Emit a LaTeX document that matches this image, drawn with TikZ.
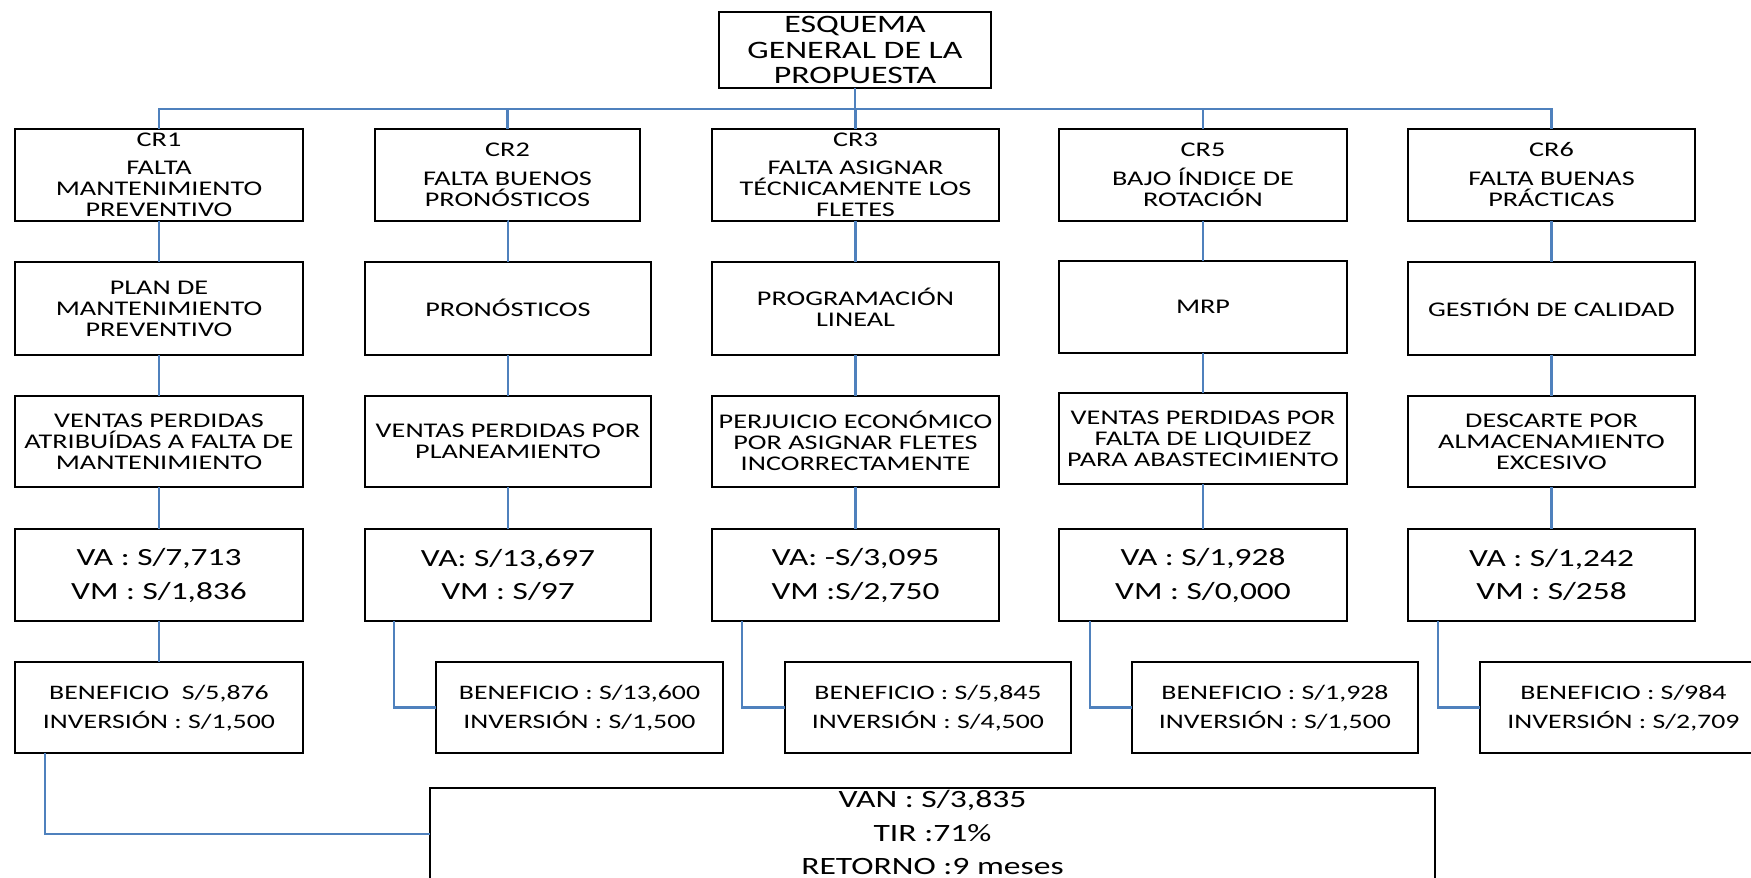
\documentclass[tikz,border=0pt]{standalone}
\usepackage{fontspec}
\setmainfont{Carlito}[FakeStretch=1.35]
\definecolor{linkblue}{RGB}{79,129,189}
% invisible rules that balance the first and last line of a box
\newcommand\tp{\rule{0pt}{0.75em}}
\newcommand\bt{\rule[-0.11em]{0pt}{0.11em}}
\newcommand\btlow{\rule[-0.18em]{0pt}{0.18em}}
\begin{document}
\begin{tikzpicture}[x=1pt,y=-1pt,
  box/.style={draw=black, line width=2.4pt, inner sep=0pt, outer sep=0pt, align=center},
  sz/.style 2 args={minimum width=#1pt, minimum height=#2pt},
  conn/.style={draw=linkblue, line width=2.2pt},
  ftitle/.style={font=\fontsize{25.1}{25.7}\selectfont},
  frow/.style={font=\fontsize{20.9}{21}\selectfont},
  fval/.style={font=\fontsize{24.7}{33.6}\selectfont},
  fben/.style={font=\fontsize{20.6}{28.3}\selectfont},
  ffin/.style={font=\fontsize{24.9}{33.6}\selectfont}]
\useasboundingbox (0,0) rectangle (1751,878);

% title
\node[box,sz={272}{76},ftitle] (title) at (855,50) {\tp ESQUEMA\\GENERAL DE LA\\PROPUESTA\bt};

% critical root causes
\node[box,sz={288}{92},frow] (c1) at (159,175) {\tp CR1\\[7.5pt]FALTA\\MANTENIMIENTO\\PREVENTIVO\bt};
\node[box,sz={265}{92},frow] (c2) at (507.5,175) {\tp CR2\\[8.5pt]FALTA BUENOS\\PRONÓSTICOS\bt};
\node[box,sz={287}{92},frow] (c3) at (855.5,175) {\tp CR3\\[7.5pt]FALTA ASIGNAR\\TÉCNICAMENTE LOS\\FLETES\bt};
\node[box,sz={288}{92},frow] (c5) at (1203,175) {\tp CR5\\[8.5pt]BAJO ÍNDICE DE\\ROTACIÓN\bt};
\node[box,sz={287}{92},frow] (c6) at (1551.5,175) {\tp CR6\\[8.5pt]FALTA BUENAS\\PRÁCTICAS\bt};

% proposed tools
\node[box,sz={288}{93},frow] (s1) at (159,308.5) {\tp PLAN DE\\MANTENIMIENTO\\PREVENTIVO\bt};
\node[box,sz={286}{93},frow] (s2) at (508,308.5) {\tp PRONÓSTICOS\bt};
\node[box,sz={287}{93},frow] (s3) at (855.5,308.5) {\tp PROGRAMACIÓN\\LINEAL\bt};
\node[box,sz={288}{92},frow] (s5) at (1203,307) {\tp MRP\bt};
\node[box,sz={287}{93},frow] (s6) at (1551.5,308.5) {\tp GESTIÓN DE CALIDAD\bt};

% losses
\node[box,sz={288}{91},frow] (p1) at (159,441.5) {\tp VENTAS PERDIDAS\\ATRIBUÍDAS A FALTA DE\\MANTENIMIENTO\bt};
\node[box,sz={286}{91},frow] (p2) at (508,441.5) {\tp VENTAS PERDIDAS POR\\PLANEAMIENTO\bt};
\node[box,sz={287}{91},frow] (p3) at (855.5,441.5) {\tp PERJUICIO ECONÓMICO\\POR ASIGNAR FLETES\\INCORRECTAMENTE\bt};
\node[box,sz={288}{91},frow] (p5) at (1203,438.5) {\tp VENTAS PERDIDAS POR\\FALTA DE LIQUIDEZ\\PARA ABASTECIMIENTO\bt};
\node[box,sz={287}{91},frow] (p6) at (1551.5,441.5) {\tp DESCARTE POR\\ALMACENAMIENTO\\EXCESIVO\bt};

% current and improved values
\node[box,sz={288}{92},fval] (v1) at (159,575) {\tp VA : S/7,713\\VM : S/1,836\bt};
\node[box,sz={286}{92},fval] (v2) at (508,575) {\tp VA: S/13,697\\VM : S/97\bt};
\node[box,sz={287}{92},fval] (v3) at (855.5,575) {\tp VA: -S/3,095\\VM :S/2,750\bt};
\node[box,sz={288}{92},fval] (v5) at (1203,575) {\tp VA : S/1,928\\VM : S/0,000\bt};
\node[box,sz={287}{92},fval] (v6) at (1551.5,575) {\tp VA : S/1,242\\VM : S/258\bt};

% benefit and investment
\node[box,sz={288}{91},fben] (b1) at (159,707.5) {\tp BENEFICIO\ \ S/5,876\\INVERSIÓN : S/1,500\bt};
\node[box,sz={287}{91},fben] (b2) at (579.5,707.5) {\tp BENEFICIO : S/13,600\\INVERSIÓN : S/1,500\bt};
\node[box,sz={286}{91},fben] (b3) at (928,707.5) {\tp BENEFICIO : S/5,845\\INVERSIÓN : S/4,500\bt};
\node[box,sz={286}{91},fben] (b5) at (1275,707.5) {\tp BENEFICIO : S/1,928\\INVERSIÓN : S/1,500\bt};
\node[box,sz={287}{91},fben] (b6) at (1623.5,707.5) {\tp BENEFICIO : S/984\\INVERSIÓN : S/2,709\bt};

% overall result
\node[box,sz={1005}{92},ffin] (fin) at (932.5,834) {\tp VAN : S/3,835\\TIR :71\%\\RETORNO :9 meses\btlow};

% bus from the title to the root causes
\coordinate (bus) at (855,109);
\draw[conn] (title.south) -- (title.south |- bus);
\draw[conn] (c1.north) -- (c1.north |- bus) -- (c6.north |- bus) -- (c6.north);
\foreach \n in {c2,c3,c5} \draw[conn] (\n.north) -- (\n.north |- bus);

% column links
\foreach \a/\b in {c1/s1,c2/s2,c3/s3,c5/s5,c6/s6,
                   s1/p1,s2/p2,s3/p3,s5/p5,s6/p6,
                   p1/v1,p2/v2,p3/v3,p5/v5,p6/v6}
  \draw[conn] (\a.south) -- (\a.south -| \b.north) -- (\b.north);
\draw[conn] (v1.south) -- (b1.north);
\draw[conn] ([xshift=29pt]v2.south west) |- (b2.west);
\draw[conn] ([xshift=30pt]v3.south west) |- (b3.west);
\draw[conn] ([xshift=31pt]v5.south west) |- (b5.west);
\draw[conn] ([xshift=30pt]v6.south west) |- (b6.west);
\draw[conn] ([xshift=30pt]b1.south west) |- (fin.west);
\end{tikzpicture}
\end{document}
